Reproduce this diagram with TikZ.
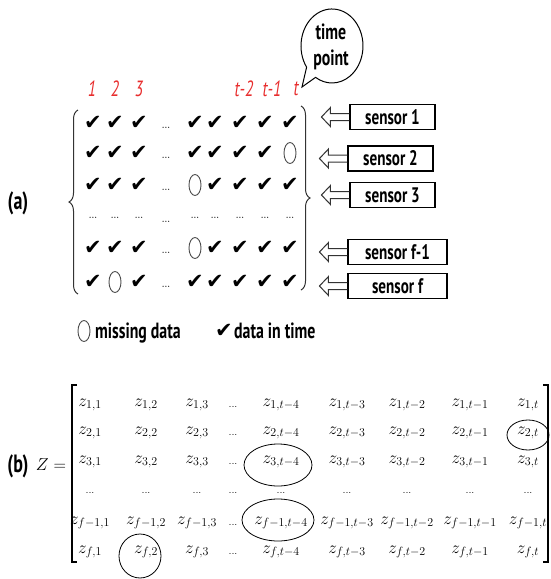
\documentclass[tikz,border=0pt]{standalone}
\usepackage{fontspec}
\usetikzlibrary{decorations.pathreplacing,shapes.geometric,calc}
\newfontfamily\lab[FakeStretch=0.72]{PT Sans}
\newfontfamily\sym{DejaVu Sans}
\definecolor{numred}{RGB}{232,45,45}
\begin{document}
\begin{tikzpicture}[x=1pt,y=-1pt,
  lbl/.style={font=\lab\bfseries\fontsize{22}{24}\selectfont, inner sep=0pt},
  tag/.style={font=\lab\bfseries\fontsize{25}{26}\selectfont, inner sep=0pt},
  num/.style={font=\lab\itshape\fontsize{22}{22}\selectfont, text=numred, inner sep=0pt},
  sbox/.style={draw, line width=1.1pt, minimum height=25pt, inner sep=0pt,
               font=\lab\bfseries\fontsize{21}{22}\selectfont},
  ck/.style={font=\sym\fontsize{21}{21}\selectfont, inner sep=0pt},
  miss/.style={draw=black!70, line width=0.9pt, ellipse, minimum width=12pt,
               minimum height=21pt, inner sep=0pt},
  dt/.style={font=\bfseries\fontsize{8}{8}\selectfont, inner sep=0pt, text=black!85},
  ent/.style={font=\fontsize{18}{20}\selectfont, inner sep=0pt},
  mdots/.style={font=\fontsize{11}{11}\selectfont, inner sep=0pt},
  brc/.style={decorate, decoration={brace, amplitude=9pt}, line width=1pt, draw=black!80},
  harrow/.style={draw=black!80, line width=1pt, line join=miter},
  circ/.style={draw, line width=0.8pt}
]
\fill[white] (0,0) rectangle (551,579);
\useasboundingbox (0,0) rectangle (551,579);

% ---------- (a) ----------
\node[tag] (la) at (18,203) {(a)};

% time point bubble
\draw[line width=1pt] (306.6,67.2) arc[start angle=145, end angle=482, x radius=31, y radius=37] -- (302,87) -- cycle;
\node[lbl] (tm) at (331,32) {time};
\node[lbl] (pt) at (331,60) {point};

% time index labels
\foreach \n/\x/\t in {n1/92/1,n2/115/2,n3/139/3,n7/244/t-2,n8/272/t-1,n9/296/t}
  \node[num] (\n) at (\x,89) {\t};

% data grid
\foreach \r/\y in {1/123,2/153,3/185,5/248,6/282} {
  \foreach \c/\x in {1/93,2/115,3/139,5/195,6/215,7/240,8/265,9/290} {
    \pgfmathtruncatemacro\key{10*\r+\c}
    \def\kind{ck}\def\cont{✔}
    \ifnum\key=29 \def\kind{miss}\def\cont{}\fi
    \ifnum\key=35 \def\kind{miss}\def\cont{}\fi
    \ifnum\key=55 \def\kind{miss}\def\cont{}\fi
    \ifnum\key=62 \def\kind{miss}\def\cont{}\fi
    \node[\kind] (k\r\c) at (\x,\y) {\cont};
  }
  \node[dt] (k\r4) at (166,\y+5) {...};
}
\foreach \c/\x in {1/93,2/115,3/139,5/195,6/215,7/240,8/265,9/290}
  \node[dt] (k4\c) at (\x,218) {...};
\node[dt] (k44) at (166,222) {...};

% braces
\draw[brc] (78,294) -- (78,110);
\draw[brc] (301,106) -- (301,290);

% sensor boxes
\node[sbox, minimum width=85pt] (s1) at (392.5,117) {sensor 1};
\node[sbox, minimum width=85pt] (s2) at (390.5,158.5) {sensor 2};
\node[sbox, minimum width=85pt] (s3) at (392.5,195) {sensor 3};
\node[sbox, minimum width=99pt] (s4) at (397.5,252) {sensor f-1};
\node[sbox, minimum width=99pt] (s5) at (397.5,286) {sensor f};
\foreach \n in {s1,s2,s3,s4,s5}
  \draw[harrow, shift={(\n.west)}] (0,-3.5) -- (-19,-3.5) -- (-19,-9.5) -- (-28,0)
        -- (-19,9.5) -- (-19,3.5) -- (0,3.5);

% legend
\node[miss] (lm) at (84,331) {};
\node[lbl, anchor=base west] (lmt) at (95,338) {missing data};
\node[ck] (lc) at (224,331) {✔};
\node[lbl, anchor=base west] (lct) at (234,338) {data in time};

% ---------- (b) ----------
\node[tag] (lb) at (18,466) {(b)};
\node[ent] (Z) at (51,465) {$Z =$};

\draw[line width=1.2pt] (77,385) -- (72,385) -- (72,562) -- (77,562);
\draw[line width=1.2pt] (543,385) -- (548,385) -- (548,562) -- (543,562);

\foreach \r/\y/\rl in {1/405/1,2/433/2,3/462/3,5/523/f-1,6/552/f} {
  \foreach \c/\x/\cl in {1/90/1,2/146/2,3/197/3,5/281/t-4,6/347/t-3,7/407/t-2,8/470/t-1,9/528/t} {
    \node[ent] (m\r\c) at (\x,\y) {$z_{\rl,\cl}$};
  }
  \node[mdots] (m\r4) at (233,\y+2) {...};
}
\foreach \c/\x in {1/90,2/146,3/197,4/233,5/281,6/347,7/407,8/470,9/528}
  \node[mdots] (m4\c) at (\x,493) {...};

% highlighted entries
\draw[circ] ($(m29)+(0,2)$) ellipse [x radius=21, y radius=15];
\draw[circ] ($(m35)+(-3,3)$) ellipse [x radius=34, y radius=21];
\draw[circ] ($(m55)+(-3,-3)$) ellipse [x radius=36, y radius=21];
\draw[circ] ($(m62)+(-6,4)$) ellipse [x radius=21, y radius=22];
\end{tikzpicture}
\end{document}
